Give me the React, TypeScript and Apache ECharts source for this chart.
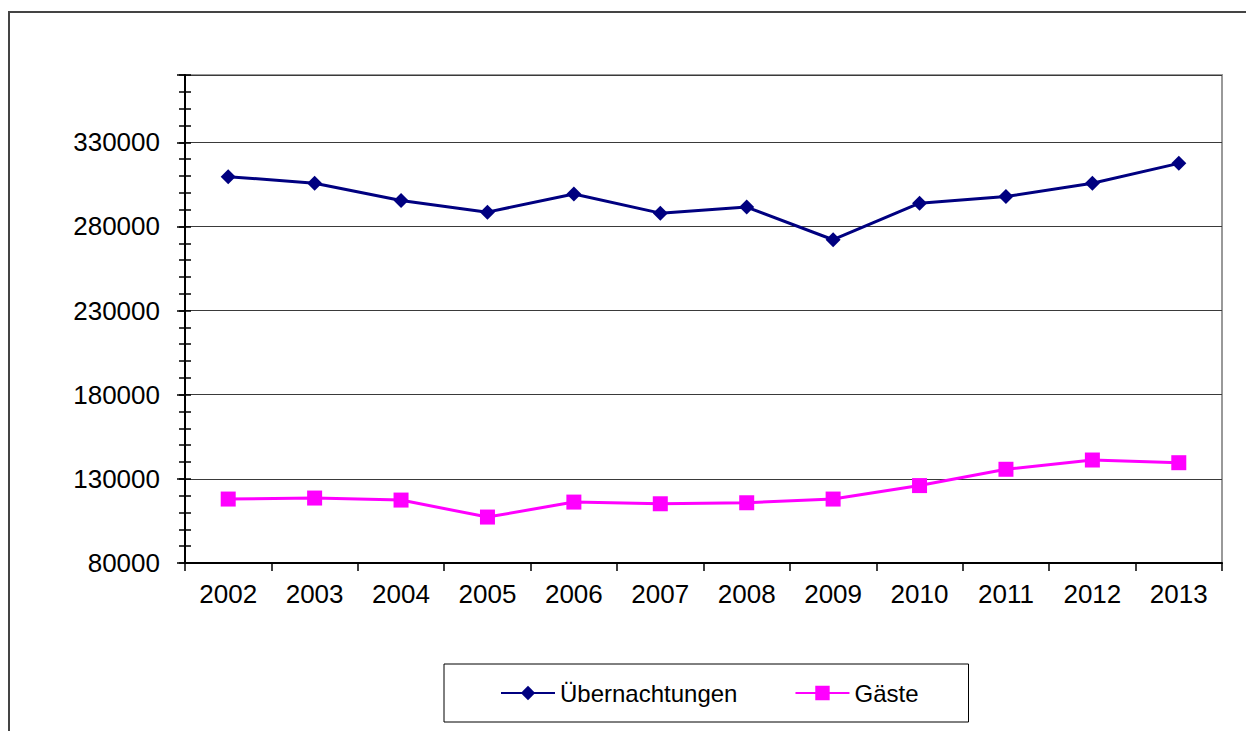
import React, { useEffect, useRef } from "react";
import * as echarts from "echarts";

const years = ["2002", "2003", "2004", "2005", "2006", "2007", "2008", "2009", "2010", "2011", "2012", "2013"];
const uebernachtungen = [309600, 305700, 295400, 288500, 299300, 287900, 291500, 272100, 293800, 297800, 305700, 317500];
const gaeste = [118000, 118600, 117400, 107300, 116200, 115200, 115800, 118000, 126000, 135700, 141200, 139600];
const yMin = 80000;
const yMax = 370000;
const yMajor = 50000;
const yMinor = 10000;

const FONT = "'Liberation Sans', Arial, sans-serif";

export default function App() {
  const ref = useRef<HTMLDivElement>(null);
  useEffect(() => {
    if (!ref.current) return;
    const chart = echarts.init(ref.current, null, { renderer: "svg" });
    const baseY = {
      type: "value" as const,
      min: yMin,
      max: yMax,
      position: "left" as const,
    };
    chart.setOption({
      animation: false,
      backgroundColor: "#ffffff",
      textStyle: { fontFamily: FONT },
      grid: {
        left: 185,
        right: 24,
        top: 75,
        bottom: 168,
        show: true,
        borderColor: "#999999",
        borderWidth: 2,
      },
      graphic: [
        {
          type: "rect",
          shape: { x: 9, y: 12, width: 1400, height: 900 },
          style: { fill: "none", stroke: "#444444", lineWidth: 2 },
          silent: true,
        },
      ],
      legend: {
        left: 444,
        top: 664,
        padding: [17, 50, 17, 56],
        borderColor: "#000000",
        borderWidth: 1,
        itemGap: 57,
        itemWidth: 54,
        itemHeight: 18,
        textStyle: { fontSize: 24, color: "#000", fontFamily: FONT },
        data: ["Übernachtungen", "Gäste"],
      },
      xAxis: {
        type: "category",
        data: years,
        boundaryGap: true,
        axisLine: { lineStyle: { color: "#000", width: 2 } },
        axisTick: { show: true, alignWithLabel: false, length: 8, lineStyle: { color: "#000", width: 1.5 } },
        axisLabel: { color: "#000", fontSize: 26, margin: 18, fontFamily: FONT },
        splitLine: { show: false },
      },
      yAxis: [
        {
          ...baseY,
          interval: yMajor,
          axisLine: { show: true, lineStyle: { color: "#000", width: 2 } },
          axisTick: { show: true, length: 8, lineStyle: { color: "#000", width: 1.5 } },
          axisLabel: {
            color: "#000",
            fontSize: 26,
            margin: 25,
            fontFamily: FONT,
            formatter: (v: number) => (v > yMax - yMajor + yMinor ? "" : String(v)),
          },
          splitLine: { show: true, lineStyle: { color: "#3a3a3a", width: 1 } },
        },
        {
          ...baseY,
          interval: yMinor,
          axisLine: { show: false },
          axisTick: { show: true, length: 6, inside: false, lineStyle: { color: "#000", width: 1.5 } },
          axisLabel: { show: false },
          splitLine: { show: false },
        },
        {
          ...baseY,
          interval: yMinor,
          axisLine: { show: false },
          axisTick: { show: true, length: 6, inside: true, lineStyle: { color: "#000", width: 1.5 } },
          axisLabel: { show: false },
          splitLine: { show: false },
        },
      ],
      series: [
        {
          name: "Übernachtungen",
          type: "line",
          data: uebernachtungen,
          yAxisIndex: 0,
          symbol: "diamond",
          symbolSize: 15,
          itemStyle: { color: "#000080" },
          lineStyle: { color: "#000080", width: 3 },
        },
        {
          name: "Gäste",
          type: "line",
          data: gaeste,
          yAxisIndex: 0,
          symbol: "rect",
          symbolSize: 15,
          itemStyle: { color: "#FF00FF" },
          lineStyle: { color: "#FF00FF", width: 3 },
        },
      ],
    });
    return () => chart.dispose();
  }, []);
  return (
    <div
      ref={ref}
      style={{ position: "absolute", left: 0, top: 0, width: 1246, height: 731, background: "#fff" }}
    />
  );
}
